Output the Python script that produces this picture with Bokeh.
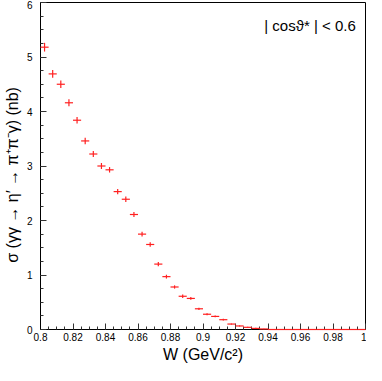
from bokeh.plotting import figure
from bokeh.models import ColumnDataSource, SingleIntervalTicker, NumeralTickFormatter, Label
from bokeh.embed import file_html
from bokeh.resources import INLINE

# bin centres of W (GeV/c^2), bin width 0.005
w_centers = [0.8025, 0.8075, 0.8125, 0.8175, 0.8225, 0.8275, 0.8325, 0.8375,
             0.8425, 0.8475, 0.8525, 0.8575, 0.8625, 0.8675, 0.8725, 0.8775,
             0.8825, 0.8875, 0.8925, 0.8975, 0.9025, 0.9075, 0.9125, 0.9175,
             0.9225, 0.9275, 0.9325, 0.9375, 0.9425, 0.9475, 0.9525, 0.9575,
             0.9625, 0.9675, 0.9725, 0.9775, 0.9825, 0.9875, 0.9925, 0.9975]
bin_half = 0.0025
sigma_nb = [5.18, 4.69, 4.50, 4.16, 3.84, 3.46, 3.22, 3.00,
            2.93, 2.53, 2.39, 2.11, 1.75, 1.56, 1.20, 0.97,
            0.78, 0.61, 0.57, 0.38, 0.28, 0.24, 0.18, 0.10,
            0.065, 0.04, 0.02, 0.01, 0.0, 0.0, 0.0, 0.0,
            0.0, 0.0, 0.0, 0.0, 0.0, 0.0, 0.0, 0.0]
sigma_err = [0.08, 0.07, 0.07, 0.065, 0.06, 0.06, 0.055, 0.055,
             0.05, 0.05, 0.05, 0.045, 0.045, 0.04, 0.04, 0.035,
             0.03, 0.03, 0.025, 0.02, 0.02, 0.015, 0.015, 0.01,
             0.01, 0.01, 0.01, 0.005, 0.0, 0.0, 0.0, 0.0,
             0.0, 0.0, 0.0, 0.0, 0.0, 0.0, 0.0, 0.0]

src = ColumnDataSource(dict(
    x=w_centers,
    y=sigma_nb,
    xl=[w - bin_half for w in w_centers],
    xh=[w + bin_half for w in w_centers],
    yl=[s - e for s, e in zip(sigma_nb, sigma_err)],
    yh=[s + e for s, e in zip(sigma_nb, sigma_err)],
))

FONT = "Liberation Sans"

p = figure(width=366, height=365, x_range=(0.8, 1.0), y_range=(0, 6),
           output_backend="svg", toolbar_location=None,
           min_border_top=2, min_border_right=1, min_border_left=0, min_border_bottom=0)
p.background_fill_color = "white"
p.border_fill_color = "white"
p.outline_line_color = "black"
p.outline_line_width = 1
p.xgrid.visible = False
p.ygrid.visible = False

red = "#ff2020"
h = p.segment(x0="xl", y0="y", x1="xh", y1="y", source=src, line_color=red, line_width=1.2)
v = p.segment(x0="x", y0="yl", x1="x", y1="yh", source=src, line_color=red, line_width=1.2)
h.level = "overlay"
v.level = "overlay"

for ax in (p.xaxis[0], p.yaxis[0]):
    ax.axis_line_color = "black"
    ax.axis_line_width = 1
    ax.major_tick_in = 6
    ax.major_tick_out = 0
    ax.minor_tick_in = 3
    ax.minor_tick_out = 0
    ax.major_tick_line_color = "#333333"
    ax.minor_tick_line_color = "#333333"
    ax.major_label_text_font = FONT
    ax.major_label_text_font_size = "10px"
    ax.major_label_text_color = "black"
    ax.axis_label_text_font = FONT
    ax.axis_label_text_font_size = "16px"
    ax.axis_label_text_font_style = "normal"
    ax.axis_label_text_color = "black"

p.xaxis.ticker = SingleIntervalTicker(interval=0.02, num_minor_ticks=4)
p.yaxis.ticker = SingleIntervalTicker(interval=1, num_minor_ticks=4)
p.xaxis.formatter = NumeralTickFormatter(format="0.[00]")
p.xaxis.major_label_standoff = 3
p.yaxis.major_label_standoff = 8
p.xaxis.axis_label = "W (GeV/c²)"
p.yaxis.axis_label = "σ (γγ → η′ → π⁺π⁻γ)     (nb)"
p.xaxis.axis_label_standoff = 2
p.yaxis.axis_label_standoff = 3

p.add_layout(Label(x=0.994, y=5.58, text="| cosϑ* | < 0.6", text_align="right",
                   text_baseline="middle", text_font=FONT, text_font_size="15px",
                   text_color="black"))

open("out.html", "w").write(file_html(p, INLINE))
